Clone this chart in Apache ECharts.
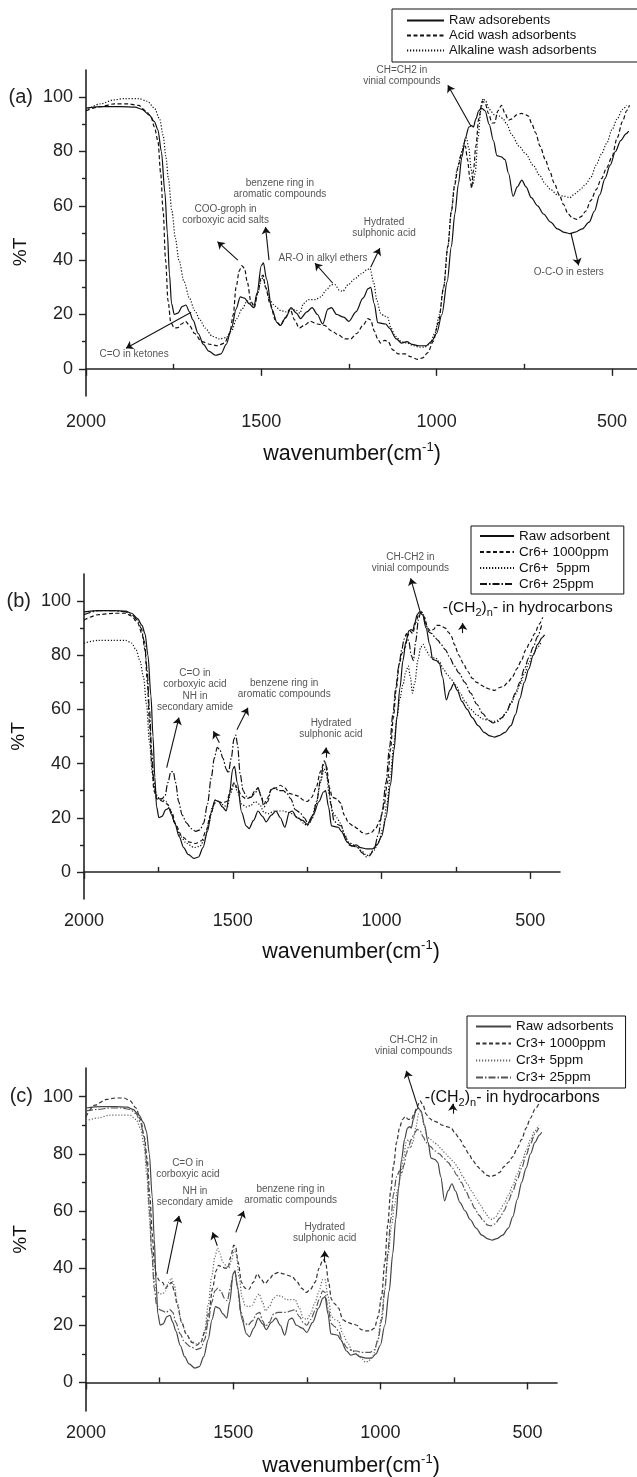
<!DOCTYPE html>
<html><head><meta charset="utf-8">
<script src="https://cdn.jsdelivr.net/npm/echarts/dist/echarts.min.js"></script>
<style>html,body{margin:0;padding:0;background:#fff;overflow:hidden;width:637px;height:1477px}#c{width:660px;height:1477px}</style>
</head><body><div id="c"></div><script>
// ---------- tick values ----------
const X_MAJOR = [2000, 1500, 1000, 500];
const X_MINOR = [1750, 1250, 750];
const Y_MAJOR = [0, 20, 40, 60, 80, 100];
const Y_MINOR = [10, 30, 50, 70, 90];

// ---------- series names ----------
const NAMES_A = ['Raw adsorebents', 'Acid wash adsorbents', 'Alkaline wash adsorbents'];
const NAMES_B = ['Raw adsorbent', 'Cr6+ 1000ppm', 'Cr6+  5ppm', 'Cr6+ 25ppm'];
const NAMES_C = ['Raw adsorbents', 'Cr3+ 1000ppm', 'Cr3+ 5ppm', 'Cr3+ 25ppm'];

// ---------- spectra [wavenumber, %T] ----------
const RAW = [[2000,96],[1950,96.5],[1900,96.5],[1860,96.3],[1840,95.5],[1820,93.5],[1805,91],[1795,88],[1785,80],[1775,65],[1768,50],[1762,35],[1756,24],[1748,20],[1738,20.5],[1725,23],[1715,23.5],[1705,21],[1695,18],[1680,13],[1665,9],[1650,6.5],[1630,5],[1615,5.5],[1600,9],[1585,15],[1572,22],[1560,26.5],[1548,26],[1535,24],[1522,22.5],[1512,28],[1500,38],[1494,39],[1485,33],[1470,22],[1455,17],[1445,16],[1430,19],[1415,22.5],[1400,20.5],[1388,18.5],[1370,21],[1355,22.5],[1340,20],[1325,16.5],[1310,22],[1300,22.5],[1285,20],[1265,19],[1250,17.5],[1230,21],[1210,26],[1195,29.5],[1188,30],[1178,24],[1168,17],[1145,16.5],[1135,15],[1115,11],[1100,9.5],[1085,10],[1070,9],[1050,8.5],[1030,8.5],[1015,10],[1000,13],[985,20],[970,32],[958,45],[948,57],[938,68],[928,78],[918,85],[908,89],[900,89.5],[895,89],[888,92],[880,95],[872,96],[862,95],[850,90],[838,84],[828,78.5],[815,78],[805,77],[795,72],[782,63.5],[770,67],[757,69.5],[745,67],[730,63],[712,60],[695,57],[675,54],[655,51.5],[635,50.2],[620,49.8],[605,50.3],[585,51.5],[565,54],[550,58],[535,64],[520,70],[505,75],[490,80],[475,84],[460,86.5],[452,87.5]];
const ACID = [[2000,95],[1960,96.5],[1920,97.5],[1880,97.5],[1850,97],[1830,95],[1815,93],[1805,89],[1795,84],[1787,72],[1780,58],[1773,40],[1766,25],[1758,17],[1748,15],[1738,15.2],[1728,16.5],[1716,17.5],[1705,16],[1690,13],[1670,10],[1645,9],[1625,8.5],[1605,9.5],[1590,13],[1580,20],[1572,30],[1563,36],[1556,38],[1548,37],[1540,32],[1530,25],[1520,22.5],[1510,28],[1500,34],[1495,34.5],[1488,30],[1475,24],[1460,18],[1447,16],[1432,18.5],[1418,22],[1405,18],[1392,15],[1378,16],[1360,17.5],[1340,16.5],[1320,16],[1300,14],[1280,12.5],[1262,11],[1245,11],[1228,13],[1210,16],[1196,18.5],[1188,18],[1178,14],[1168,11],[1160,9.5],[1148,10.5],[1138,10],[1125,7],[1110,5.5],[1090,5.5],[1075,4.5],[1055,3.5],[1040,4],[1025,6],[1010,10],[995,17],[980,30],[968,45],[958,58],[948,68],[938,75],[928,80],[918,82],[912,77],[905,70],[900,66.5],[895,73],[888,82],[880,92],[870,98.5],[862,98],[852,94],[842,90.5],[835,90.5],[825,95],[815,97],[805,94],[795,91.5],[785,92],[772,93.5],[758,94],[745,93.5],[738,93],[728,90],[718,87],[705,82],[690,77],[678,73],[665,68.5],[650,64],[638,60.5],[625,57],[612,55.5],[600,55],[588,56],[575,58],[560,62],[545,66],[530,70],[515,74],[500,78],[485,85],[470,91],[458,95],[450,97]];
const ALK = [[2000,95],[1960,97.5],[1920,99],[1890,99.5],[1850,99.5],[1825,98.5],[1805,96],[1790,92],[1780,86],[1772,78],[1765,70],[1755,58],[1745,48],[1735,40],[1720,32],[1705,26],[1690,21.5],[1675,18],[1660,15],[1640,12],[1620,11],[1600,11.5],[1585,14],[1570,18.5],[1555,22],[1540,25],[1527,24],[1520,23.5],[1510,28],[1500,33],[1495,33.5],[1487,30],[1475,25],[1460,23],[1445,21.5],[1430,21],[1415,22],[1400,21.5],[1390,20.5],[1380,24],[1365,25.5],[1345,25.5],[1330,26.5],[1315,29],[1300,31],[1290,31],[1278,29],[1268,28.5],[1252,31],[1235,33],[1215,35],[1198,36.5],[1190,37],[1180,32],[1170,25],[1160,20.5],[1150,19.5],[1140,19],[1130,15],[1118,12],[1100,10],[1085,9.5],[1065,8.5],[1050,8],[1035,8],[1020,9],[1005,13],[992,20],[980,30],[968,45],[958,58],[950,67],[942,73],[932,78],[922,83],[915,85],[908,81],[902,74],[896,68],[890,72],[882,85],[874,95],[868,99.5],[860,98.5],[850,95.5],[835,93.5],[820,93],[810,92],[800,90],[785,86],[765,82],[745,79],[725,75],[705,71],[690,68],[675,66],[655,64],[635,63.5],[620,63],[605,64.5],[590,66],[575,68],[560,70.5],[545,75],[530,79],[515,83],[500,88],[485,92],[470,95.5],[458,97]];

const CR6_1000 = [[2000,93],[1950,95],[1900,95.5],[1860,95.5],[1840,94.5],[1820,92],[1805,88],[1795,82],[1787,70],[1780,55],[1772,40],[1765,30],[1755,27],[1745,26.5],[1735,26],[1720,25],[1705,22],[1690,17],[1670,13],[1645,11],[1625,10.5],[1605,11.5],[1590,15],[1575,21],[1560,25.5],[1548,26],[1535,25.5],[1520,26],[1508,30],[1495,33],[1485,31],[1470,28],[1455,27],[1440,27.5],[1425,30],[1415,31],[1405,28],[1395,25],[1385,27],[1370,30.5],[1355,31],[1340,32],[1325,31],[1310,29],[1295,28.5],[1280,28],[1262,26.5],[1250,26],[1235,27.5],[1220,31],[1205,37],[1192,41],[1185,39],[1175,31],[1165,27.5],[1150,27],[1138,25.5],[1125,21],[1110,18],[1095,17],[1080,16],[1065,14.5],[1050,14],[1035,14.5],[1020,16],[1005,19],[992,24],[980,33],[970,45],[960,57],[950,68],[940,77],[930,81],[920,83],[912,87],[905,89],[895,88],[885,92],[875,95],[865,96],[855,94],[845,90],[835,89],[825,89.5],[815,91],[805,91],[795,90.5],[785,90],[775,88.5],[765,87],[755,84],[740,80],[725,77],[710,74],[695,71.5],[680,70],[665,69],[650,68],[635,67.5],[620,67],[605,68],[590,68.5],[575,70],[560,72],[545,75],[530,78],[515,82],[500,85],[485,88],[470,91.5],[458,94]];
const CR6_5 = [[2000,84.5],[1950,85.5],[1900,85.5],[1860,85.5],[1840,84.5],[1825,82],[1812,78],[1800,72],[1790,62],[1780,48],[1770,36],[1760,29],[1750,27.5],[1740,27],[1725,26],[1710,23],[1695,18],[1675,13],[1655,10.5],[1630,9],[1610,9.5],[1595,12],[1580,18],[1568,24],[1558,26.5],[1545,26],[1530,24.5],[1518,24],[1508,29],[1495,32.5],[1485,30],[1470,25],[1455,24],[1440,24.5],[1425,26],[1410,25],[1395,22],[1380,21.5],[1360,22.5],[1345,22.5],[1330,22.5],[1315,22],[1300,21.5],[1280,20],[1262,18],[1250,17],[1235,20],[1220,25],[1205,33],[1193,38],[1185,36],[1175,28],[1165,22],[1150,20],[1138,18],[1125,14],[1110,11],[1095,10],[1080,9],[1065,7.5],[1050,6],[1040,6.5],[1025,8],[1010,11],[995,16],[982,25],[970,36],[958,48],[948,57],[938,64],[928,69],[918,74],[910,76],[903,72],[896,66],[888,70],[878,78],[868,83],[860,84],[850,82],[840,80],[830,79],[818,79],[805,77.5],[792,75],[780,73],[765,71],[750,69],[735,66],[720,63],[700,60],[680,58],[660,56.5],[640,56],[625,55.5],[610,56],[595,57],[580,59],[565,62],[550,65.5],[535,69],[520,73],[505,77],[490,80.5],[475,83],[462,85]];
const CR6_25 = [[2000,95],[1950,96.5],[1900,96.5],[1860,96],[1840,95],[1820,93],[1808,90],[1797,85],[1788,75],[1780,60],[1772,44],[1765,33],[1756,28],[1748,27],[1738,27],[1728,28],[1718,33],[1708,37],[1700,37],[1692,33],[1682,26],[1670,21],[1655,18],[1640,16],[1625,15],[1610,15.5],[1598,18],[1585,25],[1572,35],[1562,42],[1552,46],[1543,45],[1533,42],[1522,38],[1515,36.5],[1505,42],[1496,49],[1490,50.5],[1484,47],[1475,36],[1465,30],[1455,28],[1440,27.5],[1425,29],[1415,31],[1405,28],[1395,24],[1383,26],[1370,30.5],[1360,31],[1345,30],[1330,30],[1318,29],[1305,27],[1290,23],[1275,22],[1260,20],[1245,17.5],[1232,20],[1218,26],[1205,34],[1195,39.5],[1188,40],[1180,34],[1170,25],[1160,19],[1148,17.5],[1135,17],[1122,13],[1110,10],[1095,9.5],[1080,9],[1065,7],[1050,5.5],[1040,6],[1025,8.5],[1010,14],[998,22],[985,33],[973,46],[962,58],[952,68],[942,76],[932,82],[924,86],[916,88],[908,85],[900,80],[893,78],[885,85],[876,93],[868,96],[860,95],[850,91],[840,88.5],[830,88],[820,86.5],[810,85.5],[800,84],[785,82],[770,79],[755,76],[740,73.5],[720,70],[700,66],[680,62],[660,58.5],[640,56],[625,55],[610,55.5],[595,57],[580,59],[565,62.5],[550,66],[535,70],[520,75],[505,79],[490,83],[475,87],[462,91]];

const CR3_1000 = [[2000,93],[1970,97],[1930,99],[1900,99.5],[1870,99.5],[1850,98.5],[1830,96],[1815,92],[1802,86],[1792,78],[1783,65],[1775,52],[1768,42],[1760,37],[1750,35.5],[1740,35],[1730,33],[1720,34],[1710,35],[1700,32],[1690,27],[1675,21],[1660,17],[1640,14],[1625,13],[1610,14],[1595,18],[1582,25],[1570,33],[1558,39],[1550,41],[1540,40.5],[1528,40],[1518,40],[1508,44],[1498,48],[1492,47.5],[1483,42],[1472,35],[1460,33],[1447,32.5],[1432,35],[1418,38],[1405,36],[1392,34.5],[1378,36],[1362,38],[1345,38.5],[1330,38],[1315,37.5],[1300,37],[1285,35.5],[1268,33],[1252,31.5],[1238,32.5],[1222,35],[1208,40],[1195,43],[1186,42],[1176,35],[1166,29],[1155,27.5],[1142,26],[1128,22],[1112,21],[1095,20.5],[1080,20],[1065,18.5],[1050,18],[1035,18],[1020,19],[1008,23],[996,30],[985,42],[975,55],[965,67],[955,76],[945,84],[935,89],[925,92],[915,93],[905,92],[895,92],[885,94],[875,96.5],[865,98.5],[855,97],[845,94],[835,92.5],[820,91.5],[805,91],[790,90],[775,89.5],[760,89],[745,87],[730,85],[715,82.5],[700,80],[685,77.5],[670,75.5],[655,74],[640,72.5],[625,72],[610,72.5],[595,73.5],[580,75.5],[565,77],[550,79],[535,82],[520,85],[505,89],[490,92.5],[475,95.5],[462,97.5]];
const CR3_5 = [[2000,91.5],[1960,92.5],[1920,93.5],[1880,93.5],[1850,93.5],[1830,92],[1815,89],[1803,83],[1793,72],[1785,58],[1777,46],[1768,36],[1760,32],[1750,31],[1740,31],[1730,32],[1720,35],[1710,36.5],[1700,34],[1690,28],[1675,21],[1660,17],[1642,14.5],[1625,13.5],[1610,14],[1597,18],[1585,27],[1573,37],[1562,44],[1553,47],[1545,45],[1535,42],[1525,41],[1515,40],[1505,43],[1497,46.5],[1490,45],[1480,37],[1470,30],[1460,27],[1448,26.5],[1435,27],[1420,30],[1412,31],[1400,28],[1390,25],[1378,26.5],[1362,29.5],[1348,30.5],[1335,30],[1320,29],[1305,29],[1290,29],[1275,26],[1262,22.5],[1250,22],[1237,24],[1222,28],[1208,32],[1196,36],[1188,36],[1178,30],[1166,23],[1155,22],[1142,21.5],[1128,17],[1112,14],[1095,11],[1080,10],[1065,8.5],[1050,7],[1040,7.5],[1025,9.5],[1010,14],[998,22],[985,33],[973,45],[962,55],[952,62],[942,67],[932,72],[922,78],[912,84],[905,85],[897,82],[890,84],[880,89],[870,94],[862,95],[852,90],[842,86],[830,85],[818,84],[805,83],[792,81.5],[778,80],[765,78.5],[750,77],[735,75],[720,72],[705,69.5],[690,67],[675,64.5],[660,62],[645,59.5],[630,57.5],[620,57],[608,58],[595,60],[580,62.5],[565,65.5],[550,69],[535,73],[520,77],[505,81],[490,85],[475,88],[462,90]];
const CR3_25 = [[2000,95],[1960,95.5],[1920,96],[1880,96],[1850,95.5],[1830,94],[1815,91],[1803,86],[1793,76],[1785,62],[1777,46],[1768,33],[1760,27],[1750,25.5],[1740,25],[1728,24.5],[1715,25.5],[1705,24.5],[1695,21],[1680,17],[1665,14],[1645,12.5],[1625,11.5],[1610,12],[1597,15],[1585,21],[1573,28],[1562,32],[1552,33],[1542,32],[1530,29.5],[1520,28.5],[1510,33],[1500,38],[1494,39],[1486,34],[1475,25],[1462,21],[1450,20],[1435,21.5],[1420,24],[1410,24.5],[1400,21.5],[1390,19.5],[1378,21],[1362,24],[1348,24.5],[1335,24.5],[1320,24.5],[1305,25],[1290,25.5],[1275,23],[1262,21],[1250,20],[1237,22],[1222,25],[1208,29],[1196,32],[1188,31.5],[1178,26],[1166,20.5],[1155,19.5],[1142,18],[1128,14],[1112,12],[1095,11],[1080,11],[1065,10.5],[1050,10.5],[1035,10.5],[1020,11.5],[1008,15],[995,22],[985,32],[975,45],[965,57],[955,66],[945,72],[935,74],[928,73],[920,76],[912,80],[903,83],[895,85],[885,87],[875,88.5],[865,88],[855,86],[845,84],[830,82.5],[815,81],[800,80],[785,78.5],[770,77],[755,75],[740,72.5],[725,70],[710,67],[695,64],[680,61],[665,58.5],[650,56.5],[635,55],[625,54.8],[610,55.5],[595,57.5],[580,60],[565,63.5],[550,67],[535,71],[520,75],[505,79.5],[490,83.5],[475,87],[462,89]];

// ---------- annotations (text, wavenumber, %T) ----------
const NOTES_A = [['CH=CH2 in\nvinial compounds',1099,107.8],['benzene ring in\naromatic compounds',1447,66.3],['COO-groph in\ncorboxyic acid salts',1602,56.7],['Hydrated\nsulphonic acid',1150,52],['AR-O in alkyl ethers',1324,40.6],['O-C-O in esters',623,35.6],['C=O in ketones',1863,5.2]];
const ARROWS_A = [[902,89.3,968,104.4],[1478,40,1488,52.2],[1567,40,1625,46.8],[1188,37.4,1162,44.4],[1296,31.5,1347,38.9],[617,50,595,38.1],[1700,20.8,1886,7.6]];
const NOTES_B = [['C=O in\ncorboxyic acid',1627,71.5],['NH in\nsecondary amide',1627,63],['benzene ring in\naromatic compounds',1327,67.8],['Hydrated\nsulphonic acid',1170,52.9],['CH-CH2 in\nvinial compounds',903,114]];
const ARROWS_B = [[1722,38.5,1681,57],[1486,52.5,1449,60.6],[1545,47.7,1565,51.9],[1187,42.2,1187,45.9],[870,96,902,108.4],[727,88.2,727,91.9]];
const HYDRO_B = [794, 97.5];
const NOTES_C = [['CH-CH2 in\nvinial compounds',887,117.7],['C=O in\ncorboxyic acid',1654,74.8],['NH in\nsecondary amide',1630,65],['benzene ring in\naromatic compounds',1305,65.7],['Hydrated\nsulphonic acid',1189,52.4]];
const ARROWS_C = [[871,95.8,912,109],[754,94,754,97.5],[1725,38,1684,58.3],[1491,52.5,1464,60],[1554,47.8,1570,52.5],[1189,42,1189,46.1]];
const HYDRO_C = [849, 99.8];

// ---------- styling ----------
const FONT = "'Liberation Sans', Arial, Helvetica, sans-serif";
const DASH = { solid: 'solid', dashed: [4, 2.5], dotted: [1.2, 1.8], dashdot: [7, 2, 1.5, 2] };
const AXIS_C = '#222';

const PANELS = [
  { tag: '(a)', grid: { left: 86, top: 70, width: 561, height: 326 },
    series: [[NAMES_A[0], RAW, 'solid', '#111'], [NAMES_A[1], ACID, 'dashed', '#111'], [NAMES_A[2], ALK, 'dotted', '#111']],
    legend: { left: 392, top: 9, padding: [4, 80, 4, 14], itemWidth: 37, fontSize: 13, lh: 15 },
    yNamePad: [0, 38, 0, 0], xNameGap: 45, xNamePad: [0, 29, 0, 0], xLabMargin: 17, hydroFont: 16,
    notes: NOTES_A, arrows: ARROWS_A, hydro: null },
  { tag: '(b)', grid: { left: 84, top: 574, width: 476, height: 325 },
    series: [[NAMES_B[0], RAW, 'solid', '#111'], [NAMES_B[1], CR6_1000, 'dashed', '#111'], [NAMES_B[2], CR6_5, 'dotted', '#111'], [NAMES_B[3], CR6_25, 'dashdot', '#111']],
    legend: { left: 471, top: 526, padding: [2, 14, 2, 8], itemWidth: 34, fontSize: 13.5, lh: 16 },
    yNamePad: [0, 0, 0, 0], xNameGap: 40, xNamePad: [0, 0, 0, 58], xLabMargin: 13, hydroFont: 15.5,
    notes: NOTES_B, arrows: ARROWS_B, hydro: HYDRO_B },
  { tag: '(c)', grid: { left: 86, top: 1068, width: 471, height: 343 },
    series: [[NAMES_C[0], RAW, 'solid', '#444'], [NAMES_C[1], CR3_1000, 'dashed', '#333'], [NAMES_C[2], CR3_5, 'dotted', '#666'], [NAMES_C[3], CR3_25, 'dashdot', '#555']],
    legend: { left: 467, top: 1016, padding: [2, 12, 2, 8], itemWidth: 35, fontSize: 13.5, lh: 17 },
    yNamePad: [0, 0, 0, 0], xNameGap: 42, xNamePad: [0, 0, 0, 59], xLabMargin: 13, hydroFont: 16,
    notes: NOTES_C, arrows: ARROWS_C, hydro: HYDRO_C }
];

const chart = echarts.init(document.getElementById('c'), null, { renderer: 'canvas' });
const option = { animation: false, backgroundColor: '#fff', textStyle: { fontFamily: FONT },
  grid: [], xAxis: [], yAxis: [], legend: [], series: [] };

PANELS.forEach((p, i) => {
  option.grid.push(Object.assign({ containLabel: false, outerBoundsMode: 'none' }, p.grid));
  // major x axis
  option.xAxis.push({ type: 'value', gridIndex: i, min: 400, max: 2000, inverse: true,
    name: 'wavenumber(cm{sup|-1})', nameLocation: 'middle', nameGap: p.xNameGap, nameMoveOverlap: false,
    nameTextStyle: { fontSize: 21.5, color: '#111', fontFamily: FONT, padding: p.xNamePad,
      rich: { sup: { fontSize: 13, padding: [0, 0, 13, 0], color: '#111', fontFamily: FONT } } },
    axisLine: { show: true, lineStyle: { color: AXIS_C, width: 1.6 } },
    axisTick: { show: true, length: 7, lineStyle: { color: AXIS_C, width: 1.4 }, customValues: X_MAJOR },
    axisLabel: { show: true, customValues: X_MAJOR, fontSize: 18, color: '#222', margin: p.xLabMargin, fontFamily: FONT,
      formatter: v => String(v) },
    splitLine: { show: false } });
  // minor x ticks
  option.xAxis.push({ type: 'value', gridIndex: i, min: 400, max: 2000, inverse: true,
    axisLine: { show: false }, axisLabel: { show: false }, splitLine: { show: false },
    axisTick: { show: true, length: 5, lineStyle: { color: AXIS_C, width: 1.4 }, customValues: X_MINOR } });
  // major y axis
  option.yAxis.push({ type: 'value', gridIndex: i, position: 'left', min: -10, max: 110,
    name: '%T', nameLocation: 'middle', nameGap: 56, nameRotate: 90, nameMoveOverlap: false,
    nameTextStyle: { fontSize: 19, color: '#111', fontFamily: FONT, padding: p.yNamePad },
    axisLine: { show: true, lineStyle: { color: AXIS_C, width: 1.6 } },
    axisTick: { show: true, length: 7, lineStyle: { color: AXIS_C, width: 1.4 }, customValues: Y_MAJOR },
    axisLabel: { show: true, customValues: Y_MAJOR, fontSize: 18, color: '#222', margin: 13, fontFamily: FONT,
      formatter: v => (v === 100 ? '{p|' + p.tag + '}  100' : String(v)),
      rich: { p: { fontSize: 20, color: '#222', fontFamily: FONT } } },
    splitLine: { show: false } });
  // minor y ticks
  option.yAxis.push({ type: 'value', gridIndex: i, position: 'left', min: -10, max: 110,
    axisLine: { show: false }, axisLabel: { show: false }, splitLine: { show: false },
    axisTick: { show: true, length: 4, lineStyle: { color: AXIS_C, width: 1.4 }, customValues: Y_MINOR } });

  p.series.forEach(([name, data, dash, color]) => {
    option.series.push({ name, type: 'line', xAxisIndex: 2 * i, yAxisIndex: 2 * i, data,
      symbol: 'none', showSymbol: false, smooth: 0.3, smoothMonotone: 'x',
      lineStyle: { color, width: 1.2, type: DASH[dash] }, itemStyle: { color }, z: 3 });
  });
  // helper series carrying annotation arrows
  option.series.push({ name: 'notes' + i, type: 'line', xAxisIndex: 2 * i, yAxisIndex: 2 * i, data: [],
    clip: false, silent: true,
    markLine: { silent: true, symbol: ['none', 'arrow'], symbolSize: 7, animation: false,
      label: { show: false }, lineStyle: { color: '#111', width: 1.1, type: 'solid' },
      emphasis: { disabled: true },
      data: p.arrows.map(a => [{ coord: [a[0], a[1]] }, { coord: [a[2], a[3]] }]) } });

  option.legend.push({ orient: 'vertical', left: p.legend.left, top: p.legend.top,
    data: p.series.map(s => s[0]), padding: p.legend.padding, itemGap: 0,
    itemWidth: p.legend.itemWidth, itemHeight: 12, selectedMode: false,
    itemStyle: { opacity: 0, borderWidth: 0 },
    borderColor: '#111', borderWidth: 1, backgroundColor: '#fff',
    textStyle: { fontSize: p.legend.fontSize, color: '#111', fontFamily: FONT, lineHeight: p.legend.lh } });
});

chart.setOption(option);

// annotation texts placed via the chart's own coordinate conversion
const graphics = [];
PANELS.forEach((p, i) => {
  const finder = { xAxisIndex: 2 * i, yAxisIndex: 2 * i };
  p.notes.forEach(([txt, wn, v]) => {
    const pt = chart.convertToPixel(finder, [wn, v]);
    graphics.push({ type: 'text', x: pt[0], y: pt[1], silent: true, z: 10,
      style: { text: txt, fill: '#555', fontSize: 10, fontFamily: FONT, lineHeight: 11,
        align: 'center', verticalAlign: 'middle' } });
  });
  if (p.hydro) {
    const pt = chart.convertToPixel(finder, p.hydro);
    graphics.push({ type: 'text', x: pt[0], y: pt[1], silent: true, z: 10,
      style: { text: '-(CH{s|2}){s|n}- in hydrocarbons', fill: '#111', fontSize: p.hydroFont, fontFamily: FONT,
        align: 'left', verticalAlign: 'middle',
        rich: { s: { fontSize: 11, padding: [11, 0, 0, 0], fill: '#111', fontFamily: FONT } } } });
  }
});
chart.setOption({ graphic: graphics });
</script></body></html>
